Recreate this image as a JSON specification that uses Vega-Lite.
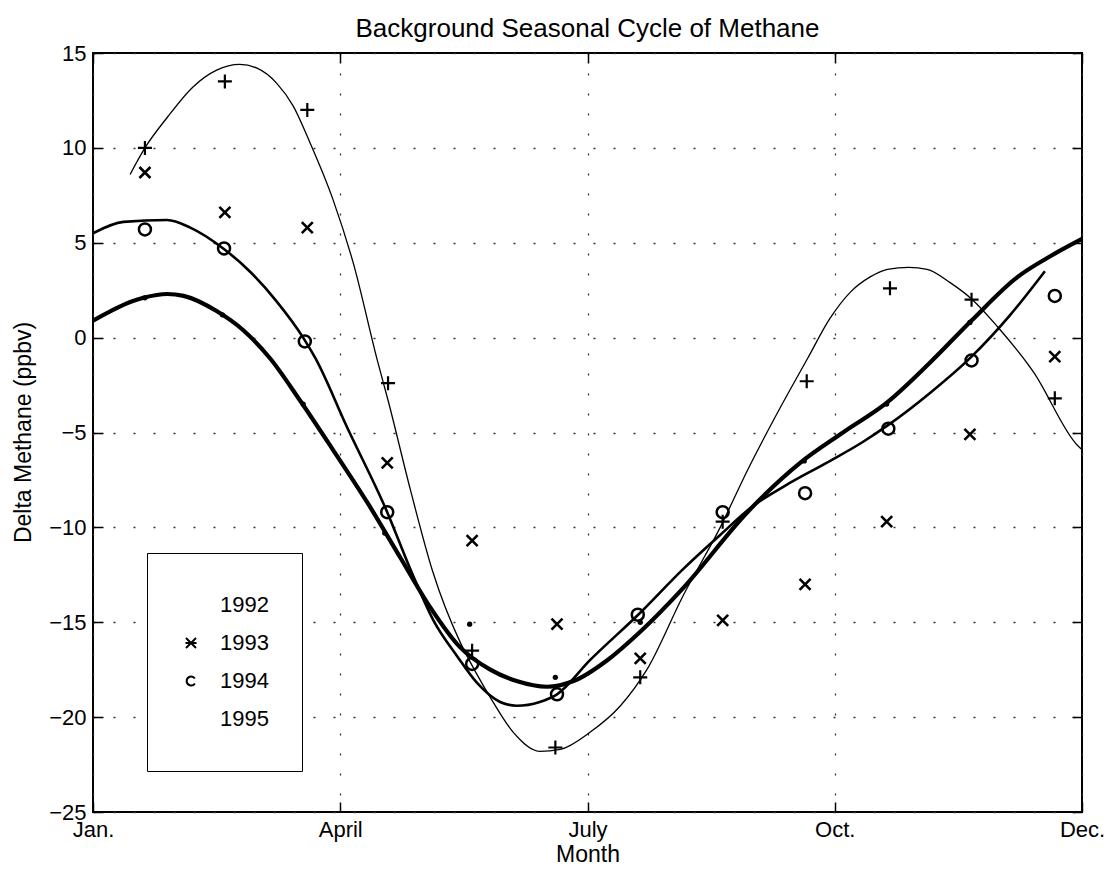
{
  "$schema": "https://vega.github.io/schema/vega-lite/v6.json",
  "width": 989,
  "height": 759,
  "autosize": {"type": "none"},
  "padding": {"left": 93, "top": 53, "right": 25, "bottom": 61},
  "background": "white",
  "config": {
    "font": "Liberation Sans",
    "view": {"stroke": "black", "strokeWidth": 2},
    "axis": {"domain": false, "labelColor": "black", "titleColor": "black", "tickColor": "black", "gridColor": "#333333", "gridDash": [2, 18], "gridWidth": 1.3}
  },
  "title": {
    "text": "Background Seasonal Cycle of Methane",
    "fontSize": 26,
    "fontWeight": "normal",
    "color": "black",
    "baseline": "alphabetic",
    "offset": 15,
    "dy": 36,
    "anchor": "middle"
  },
  "datasets": {
    "pts": [
      {"year": "1992", "month": 0.63, "value": 10.0},
      {"year": "1992", "month": 1.60, "value": 13.5},
      {"year": "1992", "month": 2.60, "value": 12.0},
      {"year": "1992", "month": 3.58, "value": -2.4},
      {"year": "1992", "month": 4.60, "value": -16.5},
      {"year": "1992", "month": 5.61, "value": -21.6},
      {"year": "1992", "month": 6.64, "value": -17.9},
      {"year": "1992", "month": 7.64, "value": -9.7},
      {"year": "1992", "month": 8.66, "value": -2.3},
      {"year": "1992", "month": 9.67, "value": 2.6},
      {"year": "1992", "month": 10.66, "value": 2.0},
      {"year": "1992", "month": 11.67, "value": -3.2},
      {"year": "1993", "month": 0.63, "value": 8.7},
      {"year": "1993", "month": 1.60, "value": 6.6},
      {"year": "1993", "month": 2.60, "value": 5.8},
      {"year": "1993", "month": 3.57, "value": -6.6},
      {"year": "1993", "month": 4.60, "value": -10.7},
      {"year": "1993", "month": 5.63, "value": -15.1},
      {"year": "1993", "month": 6.64, "value": -16.9},
      {"year": "1993", "month": 7.64, "value": -14.9},
      {"year": "1993", "month": 8.64, "value": -13.0},
      {"year": "1993", "month": 9.63, "value": -9.7},
      {"year": "1993", "month": 10.64, "value": -5.1},
      {"year": "1993", "month": 11.67, "value": -1.0},
      {"year": "1994", "month": 0.63, "value": 5.7},
      {"year": "1994", "month": 1.59, "value": 4.7},
      {"year": "1994", "month": 2.57, "value": -0.2},
      {"year": "1994", "month": 3.57, "value": -9.2},
      {"year": "1994", "month": 4.60, "value": -17.2},
      {"year": "1994", "month": 5.63, "value": -18.8},
      {"year": "1994", "month": 6.61, "value": -14.6},
      {"year": "1994", "month": 7.64, "value": -9.2},
      {"year": "1994", "month": 8.64, "value": -8.2},
      {"year": "1994", "month": 9.65, "value": -4.8},
      {"year": "1994", "month": 10.66, "value": -1.2},
      {"year": "1994", "month": 11.67, "value": 2.2},
      {"year": "1995", "month": 0.63, "value": 2.1},
      {"year": "1995", "month": 1.57, "value": 1.2},
      {"year": "1995", "month": 2.55, "value": -3.5},
      {"year": "1995", "month": 3.54, "value": -10.3},
      {"year": "1995", "month": 4.57, "value": -15.1},
      {"year": "1995", "month": 5.61, "value": -17.9},
      {"year": "1995", "month": 6.64, "value": -15.0},
      {"year": "1995", "month": 8.63, "value": -6.5},
      {"year": "1995", "month": 9.63, "value": -3.5},
      {"year": "1995", "month": 10.64, "value": 0.8}
    ],
    "curves": [
      {"year": "1992", "month": 0.45, "value": 8.6},
      {"year": "1992", "month": 0.63, "value": 10.0},
      {"year": "1992", "month": 0.90, "value": 11.6},
      {"year": "1992", "month": 1.21, "value": 13.2},
      {"year": "1992", "month": 1.50, "value": 14.1},
      {"year": "1992", "month": 1.78, "value": 14.4},
      {"year": "1992", "month": 1.99, "value": 14.2},
      {"year": "1992", "month": 2.23, "value": 13.4},
      {"year": "1992", "month": 2.43, "value": 12.2},
      {"year": "1992", "month": 2.63, "value": 10.3},
      {"year": "1992", "month": 2.91, "value": 7.3},
      {"year": "1992", "month": 3.16, "value": 3.9},
      {"year": "1992", "month": 3.45, "value": -1.2},
      {"year": "1992", "month": 3.58, "value": -3.3},
      {"year": "1992", "month": 3.85, "value": -8.0},
      {"year": "1992", "month": 4.12, "value": -12.3},
      {"year": "1992", "month": 4.46, "value": -16.1},
      {"year": "1992", "month": 4.64, "value": -17.6},
      {"year": "1992", "month": 4.84, "value": -19.1},
      {"year": "1992", "month": 5.10, "value": -20.8},
      {"year": "1992", "month": 5.42, "value": -21.8},
      {"year": "1992", "month": 5.67, "value": -21.7},
      {"year": "1992", "month": 6.03, "value": -20.8},
      {"year": "1992", "month": 6.40, "value": -19.4},
      {"year": "1992", "month": 6.72, "value": -17.5},
      {"year": "1992", "month": 7.16, "value": -13.6},
      {"year": "1992", "month": 7.61, "value": -10.0},
      {"year": "1992", "month": 7.94, "value": -7.0},
      {"year": "1992", "month": 8.30, "value": -4.0},
      {"year": "1992", "month": 8.67, "value": -1.1},
      {"year": "1992", "month": 8.94, "value": 1.0},
      {"year": "1992", "month": 9.19, "value": 2.4},
      {"year": "1992", "month": 9.43, "value": 3.2},
      {"year": "1992", "month": 9.64, "value": 3.6},
      {"year": "1992", "month": 9.90, "value": 3.7},
      {"year": "1992", "month": 10.12, "value": 3.6},
      {"year": "1992", "month": 10.40, "value": 2.9},
      {"year": "1992", "month": 10.67, "value": 2.0},
      {"year": "1992", "month": 10.97, "value": 0.6},
      {"year": "1992", "month": 11.41, "value": -1.8},
      {"year": "1992", "month": 11.95, "value": -5.7},
      {"year": "1992", "month": 12.0, "value": -5.9},
      {"year": "1994", "month": 0.0, "value": 5.5},
      {"year": "1994", "month": 0.37, "value": 6.1},
      {"year": "1994", "month": 0.90, "value": 6.2},
      {"year": "1994", "month": 1.18, "value": 5.8},
      {"year": "1994", "month": 1.58, "value": 4.7},
      {"year": "1994", "month": 1.90, "value": 3.5},
      {"year": "1994", "month": 2.23, "value": 1.9},
      {"year": "1994", "month": 2.55, "value": 0.0},
      {"year": "1994", "month": 2.70, "value": -1.1},
      {"year": "1994", "month": 3.08, "value": -4.7},
      {"year": "1994", "month": 3.57, "value": -9.2},
      {"year": "1994", "month": 3.85, "value": -12.2},
      {"year": "1994", "month": 4.13, "value": -14.9},
      {"year": "1994", "month": 4.42, "value": -16.8},
      {"year": "1994", "month": 4.66, "value": -18.2},
      {"year": "1994", "month": 4.94, "value": -19.2},
      {"year": "1994", "month": 5.14, "value": -19.4},
      {"year": "1994", "month": 5.42, "value": -19.2},
      {"year": "1994", "month": 5.63, "value": -18.8},
      {"year": "1994", "month": 6.03, "value": -17.0},
      {"year": "1994", "month": 6.64, "value": -14.5},
      {"year": "1994", "month": 7.16, "value": -12.2},
      {"year": "1994", "month": 7.61, "value": -10.4},
      {"year": "1994", "month": 8.00, "value": -8.9},
      {"year": "1994", "month": 8.40, "value": -7.8},
      {"year": "1994", "month": 8.90, "value": -6.6},
      {"year": "1994", "month": 9.34, "value": -5.5},
      {"year": "1994", "month": 9.65, "value": -4.6},
      {"year": "1994", "month": 10.16, "value": -2.9},
      {"year": "1994", "month": 10.66, "value": -1.0},
      {"year": "1994", "month": 11.13, "value": 1.2},
      {"year": "1994", "month": 11.55, "value": 3.5},
      {"year": "1995", "month": 0.0, "value": 0.9},
      {"year": "1995", "month": 0.61, "value": 2.1},
      {"year": "1995", "month": 0.90, "value": 2.3},
      {"year": "1995", "month": 1.10, "value": 2.2},
      {"year": "1995", "month": 1.50, "value": 1.4},
      {"year": "1995", "month": 1.82, "value": 0.4},
      {"year": "1995", "month": 2.15, "value": -1.1},
      {"year": "1995", "month": 2.51, "value": -3.3},
      {"year": "1995", "month": 2.91, "value": -5.9},
      {"year": "1995", "month": 3.33, "value": -8.7},
      {"year": "1995", "month": 3.73, "value": -11.6},
      {"year": "1995", "month": 4.09, "value": -14.2},
      {"year": "1995", "month": 4.45, "value": -16.3},
      {"year": "1995", "month": 4.82, "value": -17.5},
      {"year": "1995", "month": 5.14, "value": -18.1},
      {"year": "1995", "month": 5.51, "value": -18.4},
      {"year": "1995", "month": 5.83, "value": -18.1},
      {"year": "1995", "month": 6.24, "value": -17.0},
      {"year": "1995", "month": 6.64, "value": -15.5},
      {"year": "1995", "month": 7.16, "value": -13.2},
      {"year": "1995", "month": 7.94, "value": -9.2},
      {"year": "1995", "month": 8.58, "value": -6.6},
      {"year": "1995", "month": 9.10, "value": -5.0},
      {"year": "1995", "month": 9.64, "value": -3.4},
      {"year": "1995", "month": 10.16, "value": -1.3},
      {"year": "1995", "month": 10.66, "value": 0.9},
      {"year": "1995", "month": 11.22, "value": 3.2},
      {"year": "1995", "month": 11.62, "value": 4.3},
      {"year": "1995", "month": 12.0, "value": 5.2}
    ]
  },
  "layer": [
    {
      "data": {"name": "curves"},
      "mark": {"type": "line", "color": "black", "interpolate": "monotone", "clip": true},
      "encoding": {
        "x": {
          "field": "month", "type": "quantitative",
          "scale": {"domain": [0, 12], "nice": false, "zero": false},
          "axis": {
            "values": [0, 3, 6, 9, 12],
            "labelExpr": "datum.value == 0 ? 'Jan.' : datum.value == 3 ? 'April' : datum.value == 6 ? 'July' : datum.value == 9 ? 'Oct.' : 'Dec.'",
            "labelFlush": false,
            "labelFontSize": 22,
            "tickSize": -10,
            "tickWidth": 1.5,
            "labelPadding": 17,
            "grid": true,
            "title": "Month",
            "titleFontSize": 23,
            "titleFontWeight": "normal",
            "titleBaseline": "alphabetic",
            "titleY": 49
          }
        },
        "y": {
          "field": "value", "type": "quantitative",
          "scale": {"domain": [-25, 15], "nice": false, "zero": false},
          "axis": {
            "values": [-25, -20, -15, -10, -5, 0, 5, 10, 15],
            "labelFontSize": 22,
            "tickSize": -10,
            "tickWidth": 1.5,
            "labelPadding": 17,
            "grid": true,
            "title": "Delta Methane (ppbv)",
            "titleFontSize": 23,
            "titleFontWeight": "normal",
            "titleAngle": 270,
            "titleBaseline": "middle",
            "titleX": -70,
            "titleY": 379
          }
        },
        "detail": {"field": "year", "type": "nominal"},
        "strokeWidth": {
          "field": "year", "type": "ordinal",
          "scale": {"type": "ordinal", "domain": ["1992", "1994", "1995"], "range": [1.3, 2.6, 4.2]},
          "legend": null
        }
      }
    },
    {
      "data": {"name": "pts"},
      "transform": [{"filter": "datum.year === '1992'"}],
      "mark": {"type": "point", "filled": false, "color": "black", "strokeWidth": 2.2, "opacity": 1, "size": 196, "shape": "M-1,0L1,0M0,-1L0,1"},
      "encoding": {
        "x": {"field": "month", "type": "quantitative", "axis": null},
        "y": {"field": "value", "type": "quantitative", "axis": null}
      }
    },
    {
      "data": {"name": "pts"},
      "transform": [{"filter": "datum.year === '1993'"}],
      "mark": {"type": "point", "filled": false, "color": "black", "strokeWidth": 2.6, "opacity": 1, "size": 121, "shape": "M-1,-1L1,1M-1,1L1,-1"},
      "encoding": {
        "x": {"field": "month", "type": "quantitative", "axis": null},
        "y": {"field": "value", "type": "quantitative", "axis": null}
      }
    },
    {
      "data": {"name": "pts"},
      "transform": [{"filter": "datum.year === '1994'"}],
      "mark": {"type": "point", "filled": false, "color": "black", "strokeWidth": 2.5, "opacity": 1, "size": 144, "shape": "circle"},
      "encoding": {
        "x": {"field": "month", "type": "quantitative", "axis": null},
        "y": {"field": "value", "type": "quantitative", "axis": null}
      }
    },
    {
      "data": {"name": "pts"},
      "transform": [{"filter": "datum.year === '1995'"}],
      "mark": {"type": "point", "filled": true, "color": "black", "opacity": 1, "size": 28, "shape": "circle"},
      "encoding": {
        "x": {"field": "month", "type": "quantitative", "axis": null},
        "y": {"field": "value", "type": "quantitative", "axis": null}
      }
    },
    {
      "data": {"name": "pts"},
      "transform": [{"filter": "datum.month > 100"}],
      "mark": {"type": "point", "filled": false, "color": "black", "strokeWidth": 2, "opacity": 1},
      "encoding": {
        "x": {"field": "month", "type": "quantitative", "axis": null},
        "y": {"field": "value", "type": "quantitative", "axis": null},
        "shape": {
          "field": "year", "type": "nominal",
          "scale": {"domain": ["1992", "1993", "1994", "1995"], "range": ["M0,0", "M-1,-1L1,1M-1,1L1,-1M-1.1,0L1.1,0", "M0.78,-0.5A0.9,0.9,0,1,0,0.78,0.5", "M0,0"]},
          "legend": {
            "title": null,
            "orient": "none",
            "legendX": 54,
            "legendY": 500,
            "padding": 33,
            "clipHeight": 38,
            "rowPadding": 0,
            "strokeColor": "black",
            "fillColor": "white",
            "labelFontSize": 22,
            "labelColor": "black",
            "labelOffset": 18,
            "symbolSize": 100,
            "symbolStrokeWidth": 2,
            "symbolStrokeColor": "black",
            "symbolOpacity": 1
          }
        }
      }
    },
    {
      "data": {"name": "pts"},
      "mark": {"type": "point", "opacity": 0},
      "encoding": {
        "x": {
          "field": "month", "type": "quantitative",
          "axis": {"orient": "top", "values": [0, 3, 6, 9, 12], "labels": false, "tickSize": -10, "tickWidth": 1.5, "grid": false, "title": null, "minExtent": 0, "maxExtent": 0}
        },
        "y": {
          "field": "value", "type": "quantitative",
          "axis": {"orient": "right", "values": [-25, -20, -15, -10, -5, 0, 5, 10, 15], "labels": false, "tickSize": -10, "tickWidth": 1.5, "grid": false, "title": null, "minExtent": 0, "maxExtent": 0}
        }
      }
    }
  ],
  "resolve": {"axis": {"x": "independent", "y": "independent"}}
}
